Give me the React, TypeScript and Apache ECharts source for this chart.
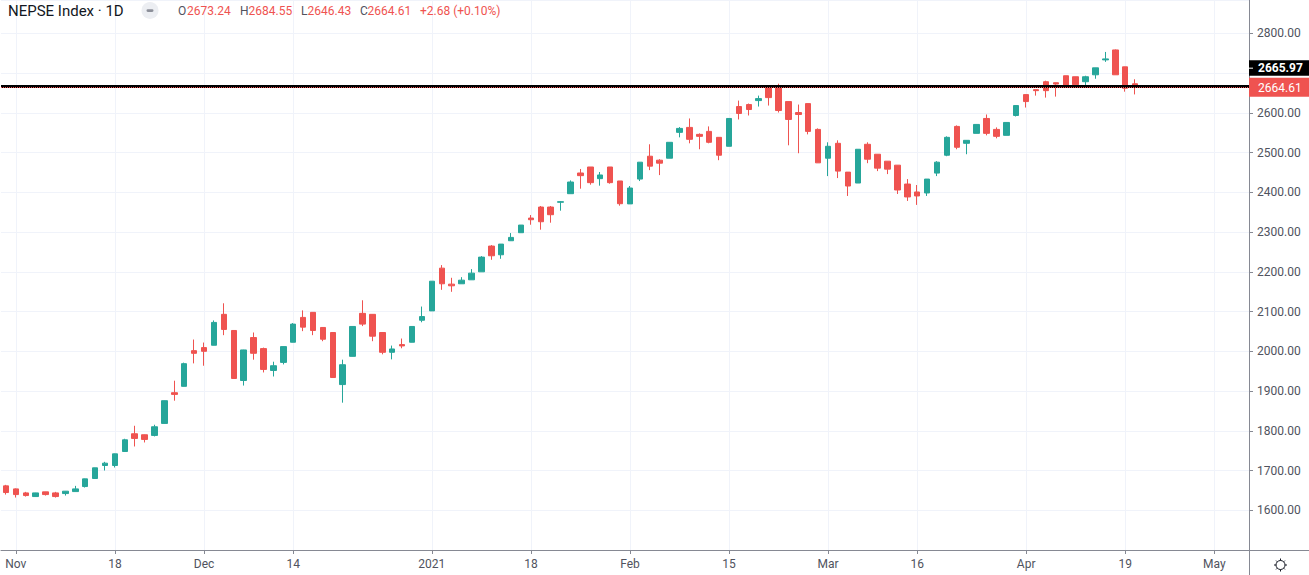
import React, { useEffect, useRef } from 'react';
import * as echarts from 'echarts';

const DATES = [
  '2020-10-29',
  '2020-11-01', '2020-11-02', '2020-11-03', '2020-11-04', '2020-11-05', '2020-11-08', '2020-11-09', '2020-11-10', '2020-11-11', '2020-11-12',
  '2020-11-18', '2020-11-19', '2020-11-22', '2020-11-23', '2020-11-24', '2020-11-25', '2020-11-26', '2020-11-29', '2020-11-30',
  '2020-12-01', '2020-12-02', '2020-12-03', '2020-12-06', '2020-12-07', '2020-12-08', '2020-12-09', '2020-12-10', '2020-12-13', '2020-12-14',
  '2020-12-15', '2020-12-16', '2020-12-17', '2020-12-20', '2020-12-21', '2020-12-22', '2020-12-23', '2020-12-24', '2020-12-27', '2020-12-28',
  '2020-12-29', '2020-12-30', '2020-12-31',
  '2021-01-03', '2021-01-04', '2021-01-05', '2021-01-06', '2021-01-07', '2021-01-10', '2021-01-11', '2021-01-12', '2021-01-13', '2021-01-17',
  '2021-01-18', '2021-01-19', '2021-01-20', '2021-01-21', '2021-01-24', '2021-01-25', '2021-01-26', '2021-01-27', '2021-01-28', '2021-01-31',
  '2021-02-01', '2021-02-02', '2021-02-03', '2021-02-04', '2021-02-07', '2021-02-08', '2021-02-09', '2021-02-10', '2021-02-11', '2021-02-14',
  '2021-02-15', '2021-02-16', '2021-02-17', '2021-02-18', '2021-02-21', '2021-02-22', '2021-02-23', '2021-02-24', '2021-02-25', '2021-02-28',
  '2021-03-01', '2021-03-02', '2021-03-03', '2021-03-04', '2021-03-07', '2021-03-09', '2021-03-10', '2021-03-14', '2021-03-15', '2021-03-16',
  '2021-03-17', '2021-03-18', '2021-03-21', '2021-03-22', '2021-03-23', '2021-03-24', '2021-03-25', '2021-03-29', '2021-03-30', '2021-03-31',
  '2021-04-01', '2021-04-04', '2021-04-05', '2021-04-06', '2021-04-07', '2021-04-08', '2021-04-11', '2021-04-12', '2021-04-15', '2021-04-18',
  '2021-04-19', '2021-04-20', '2021-04-21', '2021-04-22', '2021-04-25', '2021-04-26', '2021-04-27', '2021-04-28', '2021-04-29',
  '2021-05-02', '2021-05-03', '2021-05-04', '2021-05-05',
];

const OPEN = [
  1661.4, 1653.8, 1643.7, 1634.5, 1646.3, 1643.7, 1642.0, 1647.0, 1659.7, 1679.9,
  1712.6, 1712.6, 1747.9, 1792.5, 1790.0, 1788.3, 1818.5, 1895.8, 1911.8, 2001.7,
  2009.3, 2015.2, 2093.0, 2052.4, 1926.5, 2034.6, 2006.8, 1951.8, 1972.1, 2022.8,
  2085.3, 2098.0, 2060.0, 2047.3, 1916.3, 1987.3, 2095.5, 2093.0, 2047.3, 1997.5,
  2016.9, 2022.8, 2078.1, 2101.7, 2209.3, 2169.0, 2169.9, 2179.9, 2200.0, 2264.8,
  2242.9, 2278.2, 2298.4, 2335.3, 2363.0, 2363.0, 2375.0, 2396.6, 2448.7, 2463.8,
  2434.4, 2463.8, 2428.6, 2370.9, 2433.4, 2490.9, 2480.9, 2485.9, 2550.9, 2563.4,
  2545.9, 2553.4, 2538.4, 2515.9, 2615.9, 2620.9, 2630.9, 2668.3, 2665.8, 2628.4,
  2600.8, 2623.3, 2558.4, 2485.9, 2523.4, 2450.9, 2423.4, 2520.9, 2495.9, 2478.4,
  2468.4, 2420.9, 2400.9, 2398.4, 2448.4, 2493.4, 2565.9, 2523.4, 2548.4, 2585.9,
  2558.4, 2543.4, 2593.4, 2645.9, 2658.4, 2678.4, 2675.8, 2693.4, 2690.9, 2678.4,
  2695.8, 2733.3, 2758.3, 2715.8, 2673.24,
];

const CLOSE = [
  1644.6, 1639.5, 1637.0, 1643.7, 1639.5, 1634.5, 1648.0, 1653.8, 1679.0, 1706.8,
  1718.5, 1742.0, 1777.3, 1780.7, 1778.2, 1810.1, 1875.7, 1891.6, 1968.9, 1994.9,
  2000.0, 2072.7, 2055.0, 1931.6, 2003.4, 1995.0, 1954.4, 1963.7, 2011.8, 2068.4,
  2060.8, 2052.4, 2030.4, 1934.0, 1966.2, 2062.5, 2068.4, 2038.0, 1997.5, 2005.9,
  2013.5, 2062.5, 2087.4, 2176.4, 2169.9, 2164.8, 2179.0, 2196.7, 2237.0, 2240.4,
  2269.8, 2286.6, 2317.7, 2331.1, 2326.0, 2343.7, 2376.5, 2426.0, 2442.0, 2424.4,
  2443.7, 2424.4, 2371.4, 2410.9, 2475.9, 2465.9, 2473.4, 2525.9, 2560.9, 2533.4,
  2540.9, 2525.9, 2493.4, 2585.9, 2598.4, 2608.4, 2635.9, 2638.4, 2605.9, 2583.4,
  2595.9, 2553.4, 2474.2, 2515.9, 2453.4, 2415.9, 2508.4, 2483.4, 2460.9, 2458.4,
  2405.9, 2388.4, 2390.9, 2433.4, 2475.9, 2538.4, 2513.4, 2530.9, 2570.9, 2548.4,
  2540.9, 2575.9, 2618.4, 2628.4, 2655.9, 2655.9, 2672.5, 2668.3, 2670.8, 2690.9,
  2713.3, 2735.8, 2695.8, 2661.93, 2664.61,
];

const LOW = [
  1639.5, 1632.0, 1634.5, 1634.0, 1637.0, 1632.0, 1637.0, 1647.0, 1657.2, 1679.0,
  1700.0, 1707.6, 1747.0, 1760.5, 1770.6, 1785.8, 1818.0, 1875.7, 1911.5, 1969.6,
  1963.7, 2015.0, 2040.6, 1931.0, 1913.8, 1978.9, 1946.8, 1936.6, 1967.0, 2022.5,
  2050.7, 2040.6, 2025.4, 1933.5, 1870.7, 1987.0, 2063.4, 2025.4, 1992.4, 1979.7,
  2007.6, 2022.5, 2073.0, 2101.5, 2154.7, 2149.7, 2169.9, 2179.9, 2200.0, 2230.3,
  2232.8, 2278.0, 2298.4, 2318.5, 2306.0, 2323.6, 2353.8, 2396.6, 2409.2, 2419.3,
  2416.8, 2421.8, 2366.4, 2370.9, 2428.4, 2455.9, 2443.4, 2485.9, 2538.4, 2523.4,
  2508.4, 2523.4, 2480.9, 2515.9, 2583.4, 2593.4, 2615.9, 2618.4, 2600.9, 2518.4,
  2498.4, 2545.9, 2474.0, 2440.9, 2435.9, 2390.9, 2423.4, 2473.4, 2453.4, 2445.9,
  2395.9, 2378.4, 2368.4, 2390.9, 2440.9, 2490.9, 2508.4, 2495.9, 2548.4, 2543.4,
  2535.9, 2543.4, 2590.9, 2613.4, 2643.4, 2638.4, 2640.9, 2665.8, 2670.8, 2668.3,
  2685.8, 2728.3, 2695.8, 2653.3, 2646.43,
];

const HIGH = [
  1663.9, 1655.0, 1646.3, 1644.0, 1646.5, 1646.3, 1648.5, 1661.4, 1679.5, 1707.0,
  1721.9, 1742.5, 1779.9, 1812.6, 1790.5, 1815.2, 1876.0, 1926.0, 1971.5, 2029.6,
  2022.0, 2077.7, 2120.8, 2052.8, 2003.8, 2047.3, 2009.3, 1973.8, 2012.0, 2071.0,
  2103.0, 2098.5, 2060.5, 2047.6, 1978.9, 2062.8, 2128.4, 2093.3, 2047.6, 2014.4,
  2032.1, 2062.8, 2112.6, 2176.6, 2216.9, 2185.0, 2186.6, 2206.8, 2239.6, 2267.3,
  2270.0, 2297.5, 2317.7, 2342.9, 2365.6, 2365.6, 2378.2, 2430.0, 2458.8, 2463.8,
  2451.2, 2463.8, 2428.6, 2415.9, 2476.0, 2520.9, 2483.4, 2526.0, 2564.2, 2585.9,
  2548.4, 2565.9, 2538.5, 2586.0, 2630.9, 2623.4, 2643.4, 2670.0, 2673.3, 2628.5,
  2620.9, 2623.4, 2560.9, 2525.9, 2530.9, 2451.0, 2508.5, 2525.9, 2496.0, 2478.5,
  2468.5, 2433.4, 2418.4, 2433.5, 2478.4, 2540.9, 2568.4, 2531.0, 2571.0, 2595.9,
  2563.4, 2576.0, 2618.5, 2646.0, 2658.5, 2680.9, 2676.0, 2693.5, 2691.0, 2693.4,
  2713.4, 2753.3, 2759.5, 2716.0, 2684.55,
];

const TICK_LABELS: Record<string, string> = {
  '2020-11-01': 'Nov',
  '2020-11-18': '18',
  '2020-12-01': 'Dec',
  '2020-12-14': '14',
  '2021-01-03': '2021',
  '2021-01-18': '18',
  '2021-02-01': 'Feb',
  '2021-02-15': '15',
  '2021-03-01': 'Mar',
  '2021-03-16': '16',
  '2021-04-01': 'Apr',
  '2021-04-19': '19',
  '2021-05-02': 'May',
};

const Y_MIN = 1500;
const Y_MAX = 2884;
const Y_STEP = 100;
const HIDDEN_Y_LABELS = [2700];
const H_LINE = 2665.97;
const TITLE = 'NEPSE Index · 1D';

const UP = '#26a69a';
const DOWN = '#ef5350';
const GRID_COLOR = '#f0f3fa';
const AXIS_COLOR = '#868993';
const TEXT_COLOR = '#50535e';
const FONT = 'Roboto';

const GEAR_D =
  'M4.5 0 A4.5 4.5 0 1 1 -4.5 0 A4.5 4.5 0 1 1 4.5 0 Z ' +
  'M0 -4.5 L0 -6.5 M0 4.5 L0 6.5 M4.5 0 L6.5 0 M-4.5 0 L-6.5 0 ' +
  'M3.2 -3.2 L4.4 -4.4 M-3.2 -3.2 L-4.4 -4.4 M3.2 3.2 L4.4 4.4 M-3.2 3.2 L-4.4 4.4';
echarts.graphic.registerShape('tvgear', echarts.graphic.extendPath(GEAR_D, {}));

export default function App() {
  const ref = useRef<HTMLDivElement>(null);

  useEffect(() => {
    const el = ref.current;
    if (!el) return;
    const chart = echarts.init(el, null, { renderer: 'svg' });

    const candles = OPEN.map((o, i) => [o, CLOSE[i], LOW[i], HIGH[i]]);
    const tickIdx: number[] = [];
    DATES.forEach((d, i) => {
      if (TICK_LABELS[d] !== undefined) tickIdx.push(i);
    });
    const isTick = (_i: number, v: string) => TICK_LABELS[v] !== undefined;
    const last = CLOSE.length - 1;

    chart.setOption({
      animation: false,
      backgroundColor: '#ffffff',
      grid: { left: 1, right: 60, top: 0, bottom: 25, containLabel: false },
      xAxis: {
        type: 'category',
        data: DATES,
        boundaryGap: true,
        axisLine: { show: true, lineStyle: { color: AXIS_COLOR, width: 1 } },
        axisTick: {
          show: true,
          alignWithLabel: true,
          interval: isTick,
          length: 4,
          lineStyle: { color: AXIS_COLOR },
        },
        axisLabel: {
          show: true,
          interval: isTick,
          formatter: (v: string) => TICK_LABELS[v] || '',
          color: TEXT_COLOR,
          fontSize: 12,
          fontFamily: FONT,
          margin: 8,
        },
        splitLine: { show: false },
      },
      yAxis: {
        type: 'value',
        position: 'right',
        min: Y_MIN,
        max: Y_MAX,
        interval: Y_STEP,
        axisLine: { show: true, lineStyle: { color: AXIS_COLOR, width: 1 } },
        axisTick: { show: true, length: 4, lineStyle: { color: AXIS_COLOR } },
        axisLabel: {
          show: true,
          showMinLabel: false,
          showMaxLabel: false,
          formatter: (v: number) => (HIDDEN_Y_LABELS.indexOf(v) >= 0 ? '' : v.toFixed(2)),
          color: TEXT_COLOR,
          fontSize: 12,
          fontFamily: FONT,
          margin: 8,
        },
        splitLine: { show: true, lineStyle: { color: GRID_COLOR, width: 1 } },
      },
      series: [
        {
          type: 'custom',
          z: 1,
          silent: true,
          data: tickIdx.map((i) => [i, Y_MIN]),
          encode: { x: 0, y: 1 },
          renderItem: (params: any, api: any) => {
            const x = Math.round(api.coord([api.value(0), Y_MIN])[0]) + 0.5;
            const cs = params.coordSys;
            return {
              type: 'line',
              shape: { x1: x, y1: cs.y, x2: x, y2: cs.y + cs.height },
              style: { stroke: GRID_COLOR, lineWidth: 1 },
            };
          },
        },
        {
          type: 'candlestick',
          z: 2,
          barWidth: 6,
          data: candles,
          itemStyle: {
            color: UP,
            color0: DOWN,
            borderColor: UP,
            borderColor0: DOWN,
            borderWidth: 1,
          },
          markLine: {
            silent: true,
            symbol: ['none', 'none'],
            label: { show: false },
            data: [
              { yAxis: H_LINE, lineStyle: { color: '#000000', width: 3, type: 'solid' } },
              { yAxis: CLOSE[last], lineStyle: { color: DOWN, width: 1, type: 'dotted' } },
            ],
          },
        },
      ],
    });

    const yRed = chart.convertToPixel({ yAxisIndex: 0 }, CLOSE[last]) as number;
    const prev = CLOSE[last - 1];
    const chg = CLOSE[last] - prev;
    const pct = (chg / prev) * 100;
    const sign = chg >= 0 ? '+' : '';
    const chgText = `${sign}${chg.toFixed(2)} (${sign}${pct.toFixed(2)}%)`;

    const legendFont = `12px ${FONT}`;
    const txt = (x: number, text: string, fill: string, font = legendFont) => ({
      type: 'text',
      x,
      y: 11,
      z: 100,
      silent: true,
      style: { text, fill, font, align: 'left', verticalAlign: 'middle', textAlign: 'left', textVerticalAlign: 'middle' },
    });

    const redTop = yRed - 9.5;
    const blackTop = redTop - 17.5;

    chart.setOption({
      graphic: [
        txt(8, TITLE, '#131722', `15px ${FONT}`),
        { type: 'circle', z: 100, silent: true, shape: { cx: 150, cy: 10.5, r: 8.5 }, style: { fill: '#eceef2' } },
        { type: 'rect', z: 101, silent: true, shape: { x: 146.5, y: 9.3, width: 7, height: 2.6, r: 1.3 }, style: { fill: '#8c8f99' } },
        txt(178, 'O', TEXT_COLOR),
        txt(187, OPEN[last].toFixed(2), DOWN),
        txt(240, 'H', TEXT_COLOR),
        txt(248.5, HIGH[last].toFixed(2), DOWN),
        txt(301, 'L', TEXT_COLOR),
        txt(307.5, LOW[last].toFixed(2), DOWN),
        txt(360, 'C', TEXT_COLOR),
        txt(367.5, CLOSE[last].toFixed(2), DOWN),
        txt(420, chgText, DOWN),
        // price labels on the scale
        { type: 'rect', z: 100, silent: true, shape: { x: 1249, y: blackTop, width: 60, height: 15.5 }, style: { fill: '#000000' } },
        { type: 'line', z: 101, silent: true, shape: { x1: 1249, y1: blackTop + 8, x2: 1253, y2: blackTop + 8 }, style: { stroke: '#ffffff', lineWidth: 1 } },
        {
          type: 'text', z: 101, silent: true, x: 1258, y: blackTop + 8,
          style: { text: H_LINE.toFixed(2), fill: '#ffffff', font: `bold 12px ${FONT}`, align: 'left', verticalAlign: 'middle', textAlign: 'left', textVerticalAlign: 'middle' },
        },
        { type: 'rect', z: 100, silent: true, shape: { x: 1249, y: redTop, width: 60, height: 19 }, style: { fill: DOWN } },
        {
          type: 'text', z: 101, silent: true, x: 1258, y: yRed + 0.5,
          style: { text: CLOSE[last].toFixed(2), fill: '#ffffff', font: `12px ${FONT}`, align: 'left', verticalAlign: 'middle', textAlign: 'left', textVerticalAlign: 'middle' },
        },
        // frame continuation
        { type: 'line', z: 100, silent: true, shape: { x1: 1249.5, y1: 550, x2: 1249.5, y2: 575 }, style: { stroke: AXIS_COLOR, lineWidth: 1 } },
        { type: 'line', z: 100, silent: true, shape: { x1: 1249, y1: 550.5, x2: 1309, y2: 550.5 }, style: { stroke: AXIS_COLOR, lineWidth: 1 } },
        { type: 'tvgear', z: 100, silent: true, x: 1280.5, y: 565, style: { stroke: '#131722', fill: 'none', lineWidth: 1 } },
      ],
    });

    return () => chart.dispose();
  }, []);

  return (
    <div
      ref={ref}
      style={{ position: 'absolute', left: 0, top: 0, width: 1309, height: 575, background: '#ffffff' }}
    />
  );
}
